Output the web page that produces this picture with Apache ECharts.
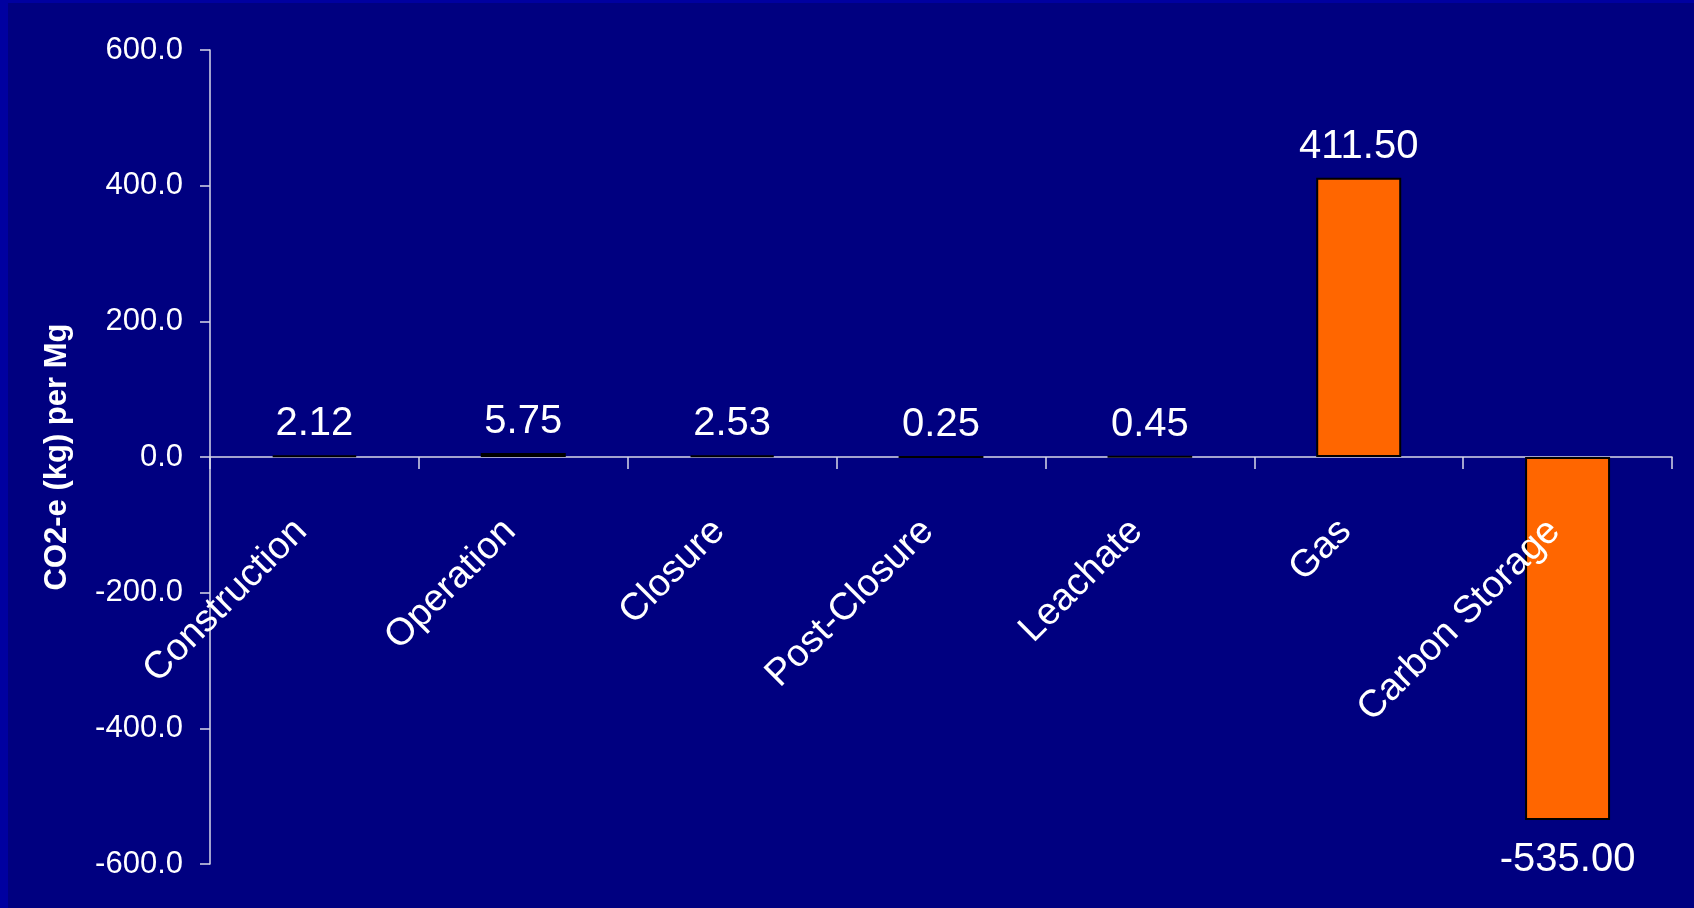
<!DOCTYPE html>
<html>
<head>
<meta charset="utf-8">
<title>CO2-e per Mg by landfill stage</title>
<script src="https://cdn.jsdelivr.net/npm/echarts@6/dist/echarts.min.js"></script>
<style>
  html, body { margin: 0; padding: 0; background: #000080; }
  #chart { width: 1694px; height: 908px; }
</style>
</head>
<body>
<div id="chart"></div>
<script>
// Landfill life-cycle stages and their CO2-equivalent emissions (kg per Mg)
const stages = ['Construction', 'Operation', 'Closure', 'Post-Closure', 'Leachate', 'Gas', 'Carbon Storage'];
const emissions = [2.12, 5.75, 2.53, 0.25, 0.45, 411.50, -535.00];

// Value axis range and step
const yMin = -600;
const yMax = 600;
const yStep = 200;

const FONT = '"Liberation Sans", Arial, Helvetica, sans-serif';
const AXIS_COLOR = '#D8D8E8';

const chart = echarts.init(document.getElementById('chart'), null, { renderer: 'canvas' });

chart.setOption({
  backgroundColor: '#000080',
  animation: false,
  textStyle: { fontFamily: FONT },
  graphic: [
    // lighter slide frame along the top and left edges
    { type: 'rect', left: 0, top: 0, shape: { width: 1694, height: 3 }, style: { fill: '#0000A0' }, z: 0 },
    { type: 'rect', left: 0, top: 0, shape: { width: 8, height: 908 }, style: { fill: '#0000A0' }, z: 0 }
  ],
  grid: { left: 210, right: 22, top: 50, bottom: 44, containLabel: false, outerBoundsMode: 'none' },
  xAxis: [{
    // category axis drawn along the zero line
    type: 'category',
    data: stages,
    boundaryGap: true,
    axisLine: { onZero: true, lineStyle: { color: AXIS_COLOR, width: 1.5 } },
    axisTick: { show: true, alignWithLabel: false, length: 12, lineStyle: { color: AXIS_COLOR, width: 1.5 } },
    axisLabel: { show: false },
    splitLine: { show: false }
  }, {
    // same categories, carrying the slanted stage names just below the zero line,
    // drawn above the bars
    type: 'category',
    data: stages,
    position: 'bottom',
    boundaryGap: true,
    z: 10,
    axisLine: { show: false, onZero: false },
    axisTick: { show: false },
    axisLabel: {
      rotate: 45,
      interval: 0,
      margin: -352,
      padding: [0, 19, 10, 0],
      color: '#FFFFFF',
      fontSize: 38,
      fontFamily: FONT,
      hideOverlap: false
    },
    splitLine: { show: false }
  }],
  yAxis: {
    type: 'value',
    min: yMin,
    max: yMax,
    interval: yStep,
    name: 'CO2-e (kg) per Mg',
    nameLocation: 'middle',
    nameGap: 137,
    nameRotate: 90,
    nameTextStyle: { color: '#FFFFFF', fontSize: 31, fontWeight: 'bold', fontFamily: FONT },
    axisLine: { show: true, lineStyle: { color: AXIS_COLOR, width: 1.5 } },
    axisTick: { show: true, length: 10, lineStyle: { color: AXIS_COLOR, width: 1.5 } },
    axisLabel: {
      color: '#FFFFFF',
      fontSize: 31,
      fontFamily: FONT,
      margin: 27,
      formatter: v => v.toFixed(1)
    },
    splitLine: { show: false }
  },
  series: [{
    type: 'bar',
    xAxisIndex: 0,
    barWidth: 85,
    itemStyle: { color: '#FF6600', borderColor: '#000000', borderWidth: 2 },
    label: {
      show: true,
      position: 'top',
      distance: 11,
      color: '#FFFFFF',
      fontSize: 40,
      fontFamily: FONT,
      formatter: p => p.value.toFixed(2)
    },
    // negative bars carry their label underneath
    data: emissions.map(v => v < 0
      ? { value: v, label: { position: 'bottom', distance: 20 } }
      : v)
  }]
});
</script>
</body>
</html>
